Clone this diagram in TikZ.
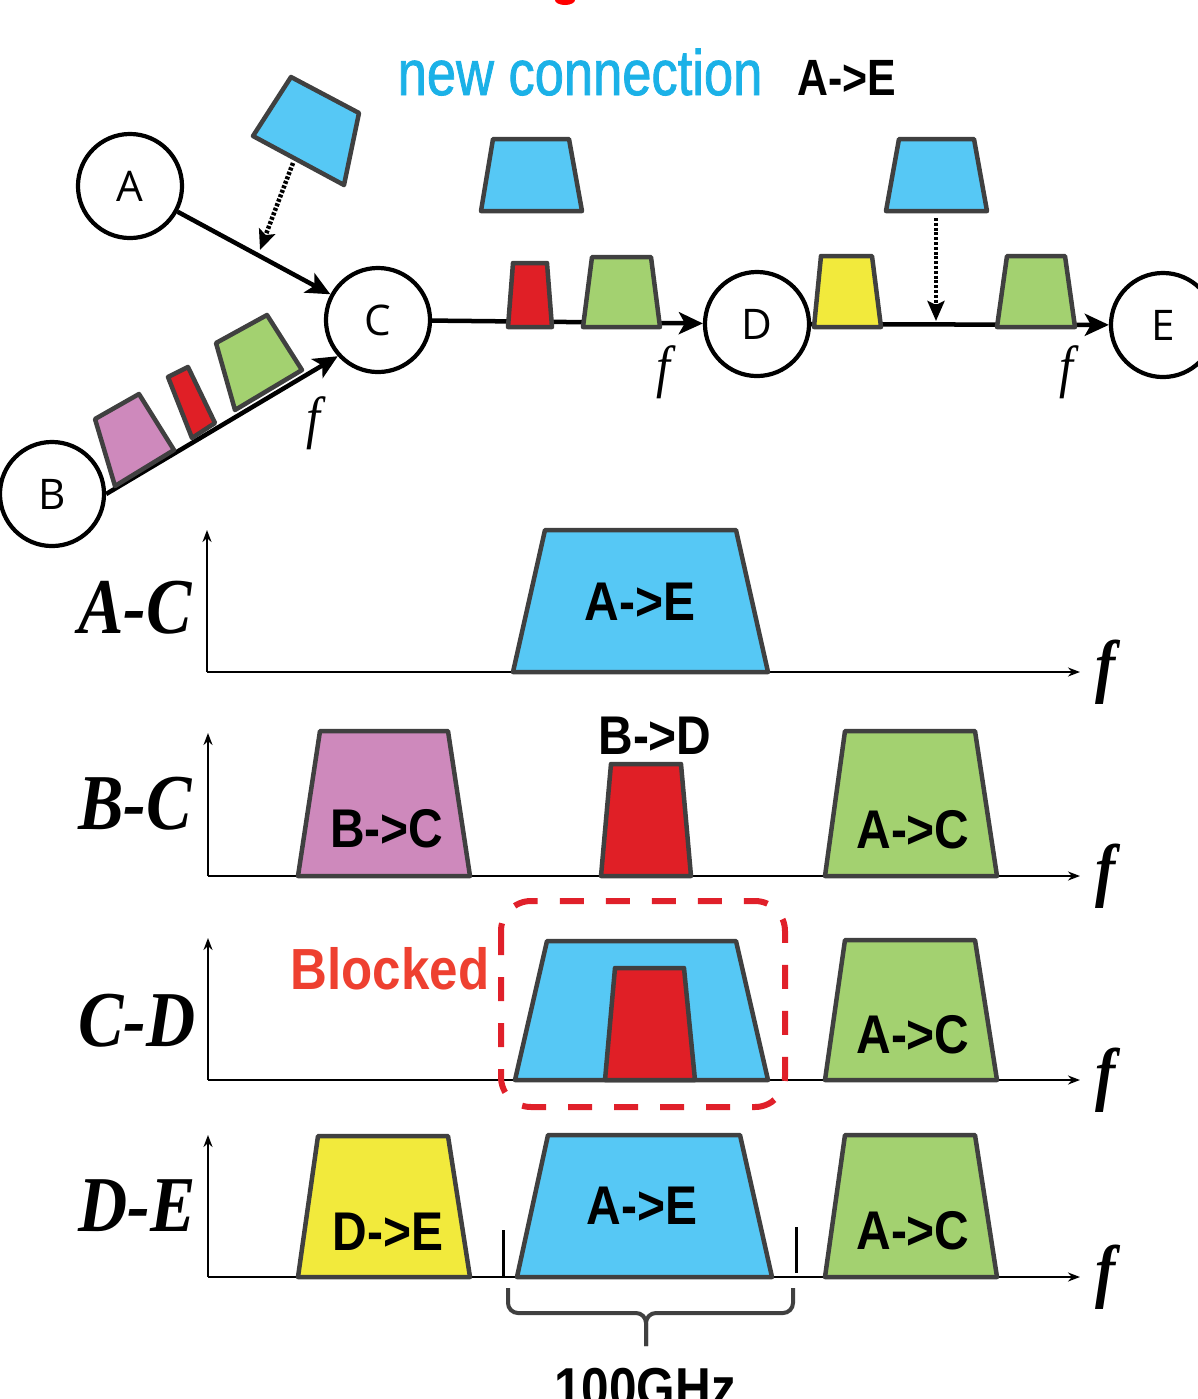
\documentclass[tikz,border=0pt]{standalone}
\usepackage{fontspec}
\setmainfont{Liberation Sans}
\newfontfamily\circfont{Open Sans}
\newfontfamily\titlefont[FakeStretch=0.84]{Liberation Sans}
\newfontfamily\headfont[FakeStretch=0.82, FakeBold=1.2]{Liberation Sans}
\newfontfamily\bandfont[FakeStretch=0.88]{Liberation Sans}
\newfontfamily\rowfont[FakeStretch=0.86]{Liberation Serif}
\usetikzlibrary{arrows.meta}

\definecolor{bandcyan}{RGB}{86,200,245}
\definecolor{bandred}{RGB}{224,31,38}
\definecolor{bandgreen}{RGB}{163,209,112}
\definecolor{bandyellow}{RGB}{242,234,60}
\definecolor{bandpink}{RGB}{206,137,188}
\definecolor{bandedge}{RGB}{64,64,64}
\definecolor{titlecyan}{RGB}{27,177,231}
\definecolor{blockred}{RGB}{224,32,42}
\definecolor{blocktext}{RGB}{238,64,48}

\begin{document}
\begin{tikzpicture}[x=0.01cm, y=-0.01cm,
    station/.style={circle, draw, line width=0.042cm, minimum size=1.04cm, inner sep=0pt,
      fill=white, font=\circfont\fontsize{12}{12}\selectfont},
    link/.style={line width=0.045cm, -{Stealth[length=0.24cm, width=0.22cm, inset=0.06cm]}},
    drop/.style={line width=0.045cm, dash pattern=on 0.03cm off 0.018cm,
      -{Stealth[length=0.2cm, width=0.17cm, inset=0.04cm]}},
    band/.style={draw=bandedge, line width=0.045cm, line join=round},
    axis/.style={line width=0.02cm, -{Stealth[length=0.12cm, width=0.09cm]}},
    bandlbl/.style={font=\bandfont\bfseries\fontsize{15.5}{15.5}\selectfont},
    rowlbl/.style={font=\rowfont\bfseries\itshape\fontsize{22.5}{22.5}\selectfont},
    flbl/.style={font=\rowfont\itshape\fontsize{16.5}{16.5}\selectfont},
    bigf/.style={font=\rowfont\bfseries\itshape\fontsize{20}{20}\selectfont}]
  \clip (0,0) rectangle (1198,1399);

  \fill[red] (565,0) ellipse [x radius=0.1cm, y radius=0.05cm];

  % title
  \node[anchor=base west, inner sep=0pt, text=titlecyan,
    font=\headfont\fontsize{18.2}{18.2}\selectfont] (title) at (397,95) {new connection};
  \node[anchor=base west, inner sep=0pt, font=\titlefont\bfseries\fontsize{14.5}{14.5}\selectfont]
    (titlepath) at (797,95) {A->E};

  % network
  \node[station] (A) at (130,186) {A};
  \node[station] (B) at (52,494) {B};
  \node[station] (C) at (378,320) {C};
  \node[station] (D) at (757,324) {D};
  \node[station] (E) at (1163,325) {E};

  \draw[link] (A) -- (C);
  \draw[link] (B.east) -- (C.222);
  \draw[link] (C) -- (D);
  \draw[link] (D) -- (E);

  % spectrum on B-C
  \filldraw[band, fill=bandpink] (115,486) -- (95,419) -- (139,394) -- (174,450) -- cycle;
  \filldraw[band, fill=bandred] (192,438) -- (168,377) -- (188,367) -- (215,423) -- cycle;
  \filldraw[band, fill=bandgreen] (235,410) -- (216,343) -- (267,315) -- (302,370) -- cycle;
  \node[flbl] (fBC) at (313,423) {f};

  % new channel dropped onto A-C
  \filldraw[band, fill=bandcyan] (253,136) -- (291,77) -- (359,113) -- (344,185) -- cycle;
  \coordinate (srcAC) at (293,163);
  \coordinate (dropAC) at (260,250);
  \draw[drop] (srcAC) -- (dropAC);

  % spectrum on C-D
  \filldraw[band, fill=bandcyan] (481,211) -- (493,139) -- (569,139) -- (582,211) -- cycle;
  \filldraw[band, fill=bandred] (508,327) -- (513,263) -- (547,263) -- (552,327) -- cycle;
  \filldraw[band, fill=bandgreen] (583,327) -- (592,257) -- (651,257) -- (660,327) -- cycle;
  \node[flbl] (fCD) at (663,372) {f};

  % spectrum on D-E
  \filldraw[band, fill=bandyellow] (814,327) -- (821,256) -- (872,256) -- (881,327) -- cycle;
  \filldraw[band, fill=bandcyan] (886,211) -- (899,139) -- (974,139) -- (987,211) -- cycle;
  \filldraw[band, fill=bandgreen] (997,327) -- (1007,256) -- (1065,256) -- (1075,327) -- cycle;
  \coordinate (srcDE) at (936,218);
  \coordinate (dropDE) at (936,321);
  \draw[drop] (srcDE) -- (dropDE);
  \node[flbl] (fDE) at (1066,372) {f};

  % link A-C
  \node[rowlbl] (rowAC) at (135,608) {A-C};
  \draw[axis] (207,672) -- (207,530);
  \draw[axis] (207,672) -- (1080,672);
  \node[bigf] (fAC2) at (1106,672) {f};
  \filldraw[band, fill=bandcyan] (513,672) -- (545,530) -- (736,530) -- (768,672) -- cycle;
  \node[bandlbl] (chAE1) at (640,602) {A->E};

  % link B-C
  \node[rowlbl] (rowBC) at (135,804) {B-C};
  \draw[axis] (208,876) -- (208,733);
  \draw[axis] (208,876) -- (1080,876);
  \node[bigf] (fBC2) at (1106,876) {f};
  \filldraw[band, fill=bandpink] (298,876) -- (320,731) -- (448,731) -- (470,876) -- cycle;
  \filldraw[band, fill=bandred] (601,876) -- (611,764) -- (681,764) -- (691,876) -- cycle;
  \filldraw[band, fill=bandgreen] (825,876) -- (845,731) -- (975,731) -- (997,876) -- cycle;
  \node[bandlbl] (chBC) at (387,829) {B->C};
  \node[bandlbl] (chBD) at (655,736) {B->D};
  \node[bandlbl] (chAC1) at (913,830) {A->C};

  % link C-D
  \node[rowlbl] (rowCD) at (137,1021) {C-D};
  \draw[axis] (208,1080) -- (208,938);
  \draw[axis] (208,1080) -- (1080,1080);
  \node[bigf] (fCD2) at (1106,1080) {f};
  \filldraw[band, fill=bandcyan] (515,1080) -- (547,941) -- (736,941) -- (768,1080) -- cycle;
  \filldraw[band, fill=bandred] (605,1080) -- (615,968) -- (684,968) -- (695,1080) -- cycle;
  \filldraw[band, fill=bandgreen] (825,1080) -- (845,940) -- (975,940) -- (997,1080) -- cycle;
  \node[bandlbl] (chAC2) at (913,1035) {A->C};
  \draw[blockred, line width=0.06cm, rounded corners=0.3cm, dash pattern=on 0.24cm off 0.22cm]
    (501,901) rectangle (785,1107);
  \node[text=blocktext, font=\bandfont\bfseries\fontsize{16.5}{16.5}\selectfont]
    (blocked) at (390,969) {Blocked};

  % link D-E
  \node[rowlbl] (rowDE) at (137,1206) {D-E};
  \draw[axis] (208,1277) -- (208,1135);
  \draw[axis] (208,1277) -- (1080,1277);
  \node[bigf] (fDE2) at (1106,1277) {f};
  \filldraw[band, fill=bandyellow] (298,1277) -- (318,1136) -- (448,1136) -- (470,1277) -- cycle;
  \filldraw[band, fill=bandcyan] (517,1277) -- (548,1135) -- (740,1135) -- (772,1277) -- cycle;
  \filldraw[band, fill=bandgreen] (825,1277) -- (845,1135) -- (975,1135) -- (997,1277) -- cycle;
  \node[bandlbl] (chDE) at (388,1232) {D->E};
  \node[bandlbl] (chAE2) at (642,1206) {A->E};
  \node[bandlbl] (chAC3) at (913,1231) {A->C};

  % 100GHz slot
  \draw[line width=0.03cm] (503,1230) -- (503,1277);
  \draw[line width=0.03cm] (796,1227) -- (796,1273);
  \draw[draw=bandedge, line width=0.04cm, rounded corners=0.1cm] (508,1288) |- (646,1313) -- (646,1346);
  \draw[draw=bandedge, line width=0.04cm, rounded corners=0.1cm] (793,1288) |- (646,1313) -- (646,1346);
  \node[anchor=base, font=\bandfont\bfseries\fontsize{16}{16}\selectfont] (slot) at (645,1407) {100GHz};
\end{tikzpicture}
\end{document}
